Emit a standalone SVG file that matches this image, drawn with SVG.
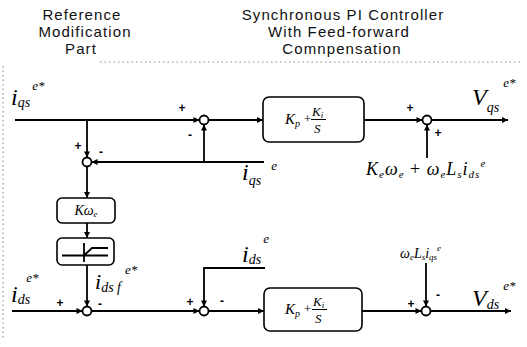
<svg xmlns="http://www.w3.org/2000/svg" width="527" height="347" viewBox="0 0 527 347">
<defs>
<marker id="ah" viewBox="0 0 10 10" refX="10" refY="5" markerWidth="7" markerHeight="6" markerUnits="userSpaceOnUse" orient="auto">
<path d="M0,0 L10,5 L0,10 Z" fill="#000"/>
</marker>
</defs>
<style>
.title{font-family:"Liberation Sans",Arial,sans-serif;font-size:15px;letter-spacing:1.1px;fill:#111;text-anchor:middle}
.m{font-family:"Liberation Serif","Times New Roman",serif;font-style:italic;fill:#000}
.big{font-size:24px}
.sub{font-size:14px}
.sup{font-size:13px}
.sg{font-family:"Liberation Sans",Arial,sans-serif;font-weight:bold;font-size:12px;fill:#000;text-anchor:middle}
.ln{fill:none;stroke:#000;stroke-width:1.8}
.box{fill:#fff;stroke:#000;stroke-width:1.6}
.sum{fill:#fff;stroke:#000;stroke-width:1.8}
.dot{fill:none;stroke:#888;stroke-width:1;stroke-dasharray:1.5 3}
</style>
<g id="frame">
<path class="dot" d="M100,62 H520"/>
<path class="dot" d="M3,66 V340"/>
</g>
<g id="titles">
<text class="title" x="82" y="20">Reference</text>
<text class="title" x="85" y="37">Modification</text>
<text class="title" x="81" y="54">Part</text>
<text class="title" x="343" y="20">Synchronous PI Controller</text>
<text class="title" x="339" y="37">With Feed-forward</text>
<text class="title" x="342" y="54">Comnpensation</text>
</g>
<g id="connectors">
<path class="ln" d="M15,120 H199.5" marker-end="url(#ah)"/>
<path class="ln" d="M208.5,120 H263" marker-end="url(#ah)"/>
<path class="ln" d="M364,120 H422.5" marker-end="url(#ah)"/>
<path class="ln" d="M431.5,120 H508" marker-end="url(#ah)"/>
<path class="ln" d="M427,158 V124.5" marker-end="url(#ah)"/>
<path class="ln" d="M87,120 V157.5" marker-end="url(#ah)"/>
<path class="ln" d="M264,162 H91.5" marker-end="url(#ah)"/>
<path class="ln" d="M204,162 V124.5" marker-end="url(#ah)"/>
<path class="ln" d="M87,166.5 V198" marker-end="url(#ah)"/>
<path class="ln" d="M87,223 V238" marker-end="url(#ah)"/>
<path class="ln" d="M87,265 V306.5" marker-end="url(#ah)"/>
<path class="ln" d="M12,311 H82.5" marker-end="url(#ah)"/>
<path class="ln" d="M91.5,311 H199.5" marker-end="url(#ah)"/>
<path class="ln" d="M265,268 H204 V306.5" marker-end="url(#ah)"/>
<path class="ln" d="M208.5,311 H264" marker-end="url(#ah)"/>
<path class="ln" d="M362,311 H421.5" marker-end="url(#ah)"/>
<path class="ln" d="M426,263 V306.5" marker-end="url(#ah)"/>
<path class="ln" d="M430.5,311 H511" marker-end="url(#ah)"/>
</g>
<g id="sum_q1">
<circle class="sum" cx="204" cy="120" r="4.5"/>
<text class="sg" x="182" y="112">+</text>
<text class="sg" x="190" y="139">-</text>
</g>
<g id="sum_q2">
<circle class="sum" cx="427" cy="120" r="4.5"/>
<text class="sg" x="410" y="112">+</text>
<text class="sg" x="438" y="137">+</text>
</g>
<g id="sum_ref">
<circle class="sum" cx="87" cy="162" r="4.5"/>
<text class="sg" x="78" y="150">+</text>
<text class="sg" x="101" y="156">-</text>
</g>
<g id="sum_d0">
<circle class="sum" cx="87" cy="311" r="4.5"/>
<text class="sg" x="60" y="307">+</text>
<text class="sg" x="100" y="308">-</text>
</g>
<g id="sum_d1">
<circle class="sum" cx="204" cy="311" r="4.5"/>
<text class="sg" x="190" y="306">+</text>
<text class="sg" x="222" y="305">-</text>
</g>
<g id="sum_d2">
<circle class="sum" cx="426" cy="311" r="4.5"/>
<text class="sg" x="411" y="308">+</text>
<text class="sg" x="438" y="299">-</text>
</g>
<g id="pi_q">
<rect class="box" x="263" y="97" width="101" height="45" rx="6"/>
<text class="m" x="285" y="124" font-size="15">K<tspan font-size="10" dy="3">p</tspan></text>
<text class="m" x="303" y="123" font-size="13" font-style="normal">+</text>
<text class="m" x="312" y="116" font-size="13">K<tspan font-size="9" dy="2">i</tspan></text>
<path d="M311,119.5 H326" stroke="#000" stroke-width="1"/>
<text class="m" x="314" y="133" font-size="13">S</text>
</g>
<g id="pi_d">
<rect class="box" x="264" y="288" width="98" height="43" rx="6"/>
<text class="m" x="285" y="314" font-size="15">K<tspan font-size="10" dy="3">p</tspan></text>
<text class="m" x="303" y="313" font-size="13" font-style="normal">+</text>
<text class="m" x="313" y="306" font-size="13">K<tspan font-size="9" dy="2">i</tspan></text>
<path d="M312,309.5 H327" stroke="#000" stroke-width="1"/>
<text class="m" x="315" y="323" font-size="13">S</text>
</g>
<g id="kw">
<rect class="box" x="57" y="198" width="58" height="25" rx="5"/>
<text class="m" x="86" y="215" font-size="14" text-anchor="middle">Kω<tspan font-size="9" dy="2">e</tspan></text>
</g>
<g id="limiter">
<rect class="box" x="57" y="238" width="57" height="27" rx="5"/>
<path d="M62,255.5 H108 M84,243 V262 M84,255.5 L92,248 H108" fill="none" stroke="#000" stroke-width="1.8"/>
</g>
<g id="labels">
<text class="m" x="11" y="105"><tspan class="big">i</tspan><tspan class="sub" dy="2">qs</tspan><tspan class="sup" dx="2" dy="-17">e*</tspan></text>
<text class="m" x="242" y="180"><tspan class="big">i</tspan><tspan class="sub" dy="5">qs</tspan><tspan class="sup" dx="10" dy="-15">e</tspan></text>
<text class="m" x="472" y="105"><tspan class="big">V</tspan><tspan class="sub" dy="7">qs</tspan><tspan class="sup" dx="4" dy="-25">e*</tspan></text>
<text class="m" x="366" y="175" font-size="18" letter-spacing="1">K<tspan font-size="11" dy="3">e</tspan><tspan dy="-3">ω</tspan><tspan font-size="11" dy="3">e</tspan><tspan font-style="normal" dy="-3"> + </tspan><tspan>ω</tspan><tspan font-size="11" dy="3">e</tspan><tspan dy="-3">L</tspan><tspan font-size="11" dy="3">s</tspan><tspan dy="-3">i</tspan><tspan font-size="11" dy="3">ds</tspan><tspan font-size="11" dy="-11">e</tspan></text>
<text class="m" x="11" y="302"><tspan class="big">i</tspan><tspan class="sub" dy="2">ds</tspan><tspan class="sup" dx="-4" dy="-22">e*</tspan></text>
<text class="m" x="95" y="289"><tspan font-size="22">i</tspan><tspan class="sub" dy="3">ds f</tspan><tspan class="sup" dx="4" dy="-18">e*</tspan></text>
<text class="m" x="242" y="262"><tspan class="big">i</tspan><tspan class="sub" dy="2">ds</tspan><tspan class="sup" dx="2" dy="-21">e</tspan></text>
<text class="m" x="400" y="258" font-size="14">ω<tspan font-size="9" dy="2">e</tspan><tspan dy="-2">L</tspan><tspan font-size="9" dy="2">s</tspan><tspan dy="-2">i</tspan><tspan font-size="9" dy="2">qs</tspan><tspan font-size="9" dy="-9">e</tspan></text>
<text class="m" x="472" y="306"><tspan class="big">V</tspan><tspan class="sub" dy="3">ds</tspan><tspan class="sup" dx="4" dy="-19">e*</tspan></text>
</g>
</svg>
